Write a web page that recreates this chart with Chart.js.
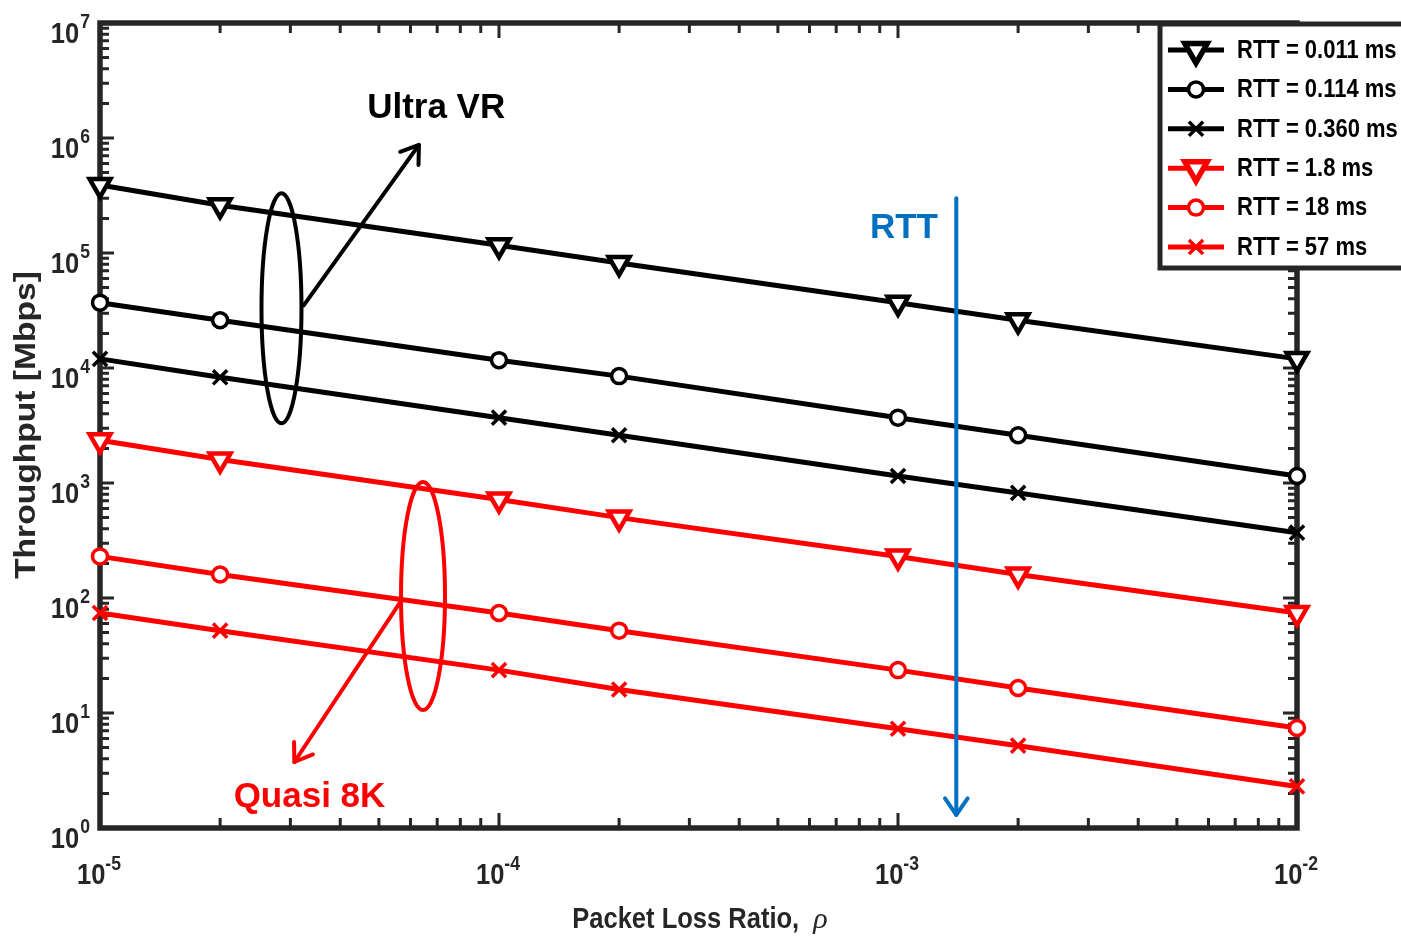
<!DOCTYPE html>
<html>
<head>
<meta charset="utf-8">
<title>Throughput vs Packet Loss Ratio</title>
<script src="https://cdn.jsdelivr.net/npm/chart.js@4.4.1/dist/chart.umd.min.js"></script>
<style>
  html, body { margin: 0; padding: 0; background: #fff; }
  #wrap { width: 1401px; height: 940px; }
</style>
</head>
<body>
<div id="wrap"><canvas id="myChart" width="1401" height="940"></canvas></div>
<script>
// x values (packet loss ratio) shared by every curve
var lossRatio = [1e-5, 2e-5, 1e-4, 2e-4, 1e-3, 2e-3, 1e-2];

// throughput [Mbps], one array per RTT
var thrRtt0011 = [3.9e5, 2.6e5, 1.17e5, 8.2e4, 3.7e4, 2.6e4, 1.2e4];
var thrRtt0114 = [3.7e4, 2.6e4, 1.17e4, 8.5e3, 3.7e3, 2.6e3, 1.15e3];
var thrRtt0360 = [1.2e4, 8.3e3, 3.7e3, 2.6e3, 1.15e3, 8.2e2, 3.7e2];
var thrRtt18 = [2.35e3, 1.6e3, 7.2e2, 5.0e2, 2.3e2, 1.6e2, 74];
var thrRtt180 = [2.3e2, 1.6e2, 74, 52, 23.6, 16.5, 7.4];
var thrRtt570 = [74, 52, 23.6, 16, 7.3, 5.2, 2.3];

var seriesLabels = ['RTT = 0.011 ms', 'RTT = 0.114 ms', 'RTT = 0.360 ms', 'RTT = 1.8 ms', 'RTT = 18 ms', 'RTT = 57 ms'];
var seriesValues = [thrRtt0011, thrRtt0114, thrRtt0360, thrRtt18, thrRtt180, thrRtt570];

// axis decades
var xDecades = [-5, -4, -3, -2];
var yDecades = [0, 1, 2, 3, 4, 5, 6, 7];

// styles
var seriesColors = ['#000000', '#000000', '#000000', '#ff0000', '#ff0000', '#ff0000'];
var seriesMarkers = ['triangle', 'circle', 'crossRot', 'triangle', 'circle', 'crossRot'];
var markerRadius = { triangle: 12, circle: 7.5, crossRot: 10 };
var markerBorder = { triangle: 4.5, circle: 3.5, crossRot: 3.5 };
var axisColor = '#262626';
var fontFam = "'Liberation Sans', Arial, sans-serif";

// annotations, anchored in data coordinates
var noteTexts = [
  { text: 'Ultra VR', x: 6.96e-5, y: 1.82e6, color: '#000000' },
  { text: 'Quasi 8K', x: 3.35e-5, y: 1.86, color: '#ff0000' },
  { text: 'RTT', x: 1.035e-3, y: 1.65e5, color: '#0070c0' }
];
var noteEllipses = [
  { x: 2.85e-5, yTop: 3.3e5, yBottom: 3.3e3, rx: 20, color: '#000000' },
  { x: 6.45e-5, yTop: 1.02e3, yBottom: 10.6, rx: 22, color: '#ff0000' }
];
var noteArrows = [
  { x1: 3.24e-5, y1: 3.5e4, x2: 6.3e-5, y2: 8.7e5, color: '#000000' },
  { x1: 5.7e-5, y1: 96, x2: 3.07e-5, y2: 3.75, color: '#ff0000' },
  { x1: 1.4e-3, y1: 3.0e5, x2: 1.4e-3, y2: 1.3, color: '#0070c0' }
];

function drawText(ctx, str, x, y, font, color, align, baseline, sx, rot) {
  ctx.save();
  ctx.translate(x, y);
  if (rot) ctx.rotate(rot);
  ctx.scale(sx || 1, 1);
  ctx.font = font;
  ctx.fillStyle = color;
  ctx.textAlign = align;
  ctx.textBaseline = baseline;
  ctx.fillText(str, 0, 0);
  ctx.restore();
}

function textWidth(ctx, str, font, sx) {
  ctx.save();
  ctx.font = font;
  var w = ctx.measureText(str).width * (sx || 1);
  ctx.restore();
  return w;
}

function drawArrow(ctx, x1, y1, x2, y2, color, lw, head) {
  ctx.save();
  ctx.strokeStyle = color;
  ctx.lineWidth = lw;
  ctx.lineCap = 'round';
  ctx.lineJoin = 'round';
  ctx.beginPath();
  ctx.moveTo(x1, y1);
  ctx.lineTo(x2, y2);
  ctx.stroke();
  var a = Math.atan2(y2 - y1, x2 - x1);
  ctx.beginPath();
  ctx.moveTo(x2 - head * Math.cos(a - 0.6), y2 - head * Math.sin(a - 0.6));
  ctx.lineTo(x2, y2);
  ctx.lineTo(x2 - head * Math.cos(a + 0.6), y2 - head * Math.sin(a + 0.6));
  ctx.stroke();
  ctx.restore();
}

// box, inward ticks (MATLAB style)
var boxPlugin = {
  id: 'boxPlugin',
  beforeDatasetsDraw: function(chart) {
    var ctx = chart.ctx, a = chart.chartArea;
    var xs = chart.scales.x, ys = chart.scales.y;
    ctx.save();
    ctx.strokeStyle = axisColor;
    ctx.lineWidth = 3;
    ctx.beginPath();
    // y ticks
    yDecades.forEach(function(k) {
      var py = ys.getPixelForValue(Math.pow(10, k));
      ctx.moveTo(a.left, py); ctx.lineTo(a.left + 14, py);
      ctx.moveTo(a.right, py); ctx.lineTo(a.right - 14, py);
      if (k < 7) {
        for (var m = 2; m <= 9; m++) {
          var p = ys.getPixelForValue(m * Math.pow(10, k));
          ctx.moveTo(a.left, p); ctx.lineTo(a.left + 9, p);
          ctx.moveTo(a.right, p); ctx.lineTo(a.right - 9, p);
        }
      }
    });
    // x ticks
    xDecades.forEach(function(k) {
      var px = xs.getPixelForValue(Math.pow(10, k));
      ctx.moveTo(px, a.bottom); ctx.lineTo(px, a.bottom - 15);
      ctx.moveTo(px, a.top); ctx.lineTo(px, a.top + 15);
      if (k < -2) {
        for (var m = 2; m <= 9; m++) {
          var p = xs.getPixelForValue(m * Math.pow(10, k));
          ctx.moveTo(p, a.bottom); ctx.lineTo(p, a.bottom - 10);
          ctx.moveTo(p, a.top); ctx.lineTo(p, a.top + 10);
        }
      }
    });
    ctx.stroke();
    ctx.lineWidth = 5.5;
    ctx.strokeRect(a.left, a.top, a.right - a.left, a.bottom - a.top);
    ctx.restore();
  },
  afterDraw: function(chart) {
    var ctx = chart.ctx, a = chart.chartArea;
    var xs = chart.scales.x, ys = chart.scales.y;
    var baseFont = 'bold 29px ' + fontFam;
    var expFont = 'bold 20px ' + fontFam;
    var sx = 0.88;

    // y tick labels
    yDecades.forEach(function(k) {
      var py = ys.getPixelForValue(Math.pow(10, k));
      var ew = textWidth(ctx, String(k), expFont, sx);
      var ex = 90 - ew;
      drawText(ctx, '10', ex - 1, py + 20, baseFont, axisColor, 'right', 'alphabetic', sx);
      drawText(ctx, String(k), ex, py + 5, expFont, axisColor, 'left', 'alphabetic', sx);
    });
    // x tick labels
    xDecades.forEach(function(k) {
      var px = xs.getPixelForValue(Math.pow(10, k));
      var bw = textWidth(ctx, '10', baseFont, sx);
      var ew = textWidth(ctx, String(k), expFont, sx);
      var start = px - 1 - (bw + ew) / 2;
      drawText(ctx, '10', start, 884, baseFont, axisColor, 'left', 'alphabetic', sx);
      drawText(ctx, String(k), start + bw, 870, expFont, axisColor, 'left', 'alphabetic', sx);
    });

    // axis titles
    var tFont = 'bold 29px ' + fontFam;
    var rhoFont = 'italic 30px "Liberation Serif", "Times New Roman", serif';
    var t1 = 'Packet Loss Ratio,  ';
    var w1 = textWidth(ctx, t1, tFont, 0.88);
    var w2 = textWidth(ctx, '\u03c1', rhoFont, 1);
    var sxT = 700 - (w1 + w2) / 2;
    drawText(ctx, t1, sxT, 928, tFont, axisColor, 'left', 'alphabetic', 0.88);
    drawText(ctx, '\u03c1', sxT + w1, 928, rhoFont, axisColor, 'left', 'alphabetic', 1);
    drawText(ctx, 'Throughput [Mbps]', 27, 425, 'bold 30px ' + fontFam, axisColor, 'center', 'middle', 1.12, -Math.PI / 2);

    // annotations
    noteEllipses.forEach(function(e) {
      var cx = xs.getPixelForValue(e.x);
      var yt = ys.getPixelForValue(e.yTop), yb = ys.getPixelForValue(e.yBottom);
      ctx.save();
      ctx.strokeStyle = e.color;
      ctx.lineWidth = 4;
      ctx.beginPath();
      ctx.ellipse(cx, (yt + yb) / 2, e.rx, (yb - yt) / 2, 0, 0, Math.PI * 2);
      ctx.stroke();
      ctx.restore();
    });
    noteArrows.forEach(function(r) {
      drawArrow(ctx, xs.getPixelForValue(r.x1), ys.getPixelForValue(r.y1),
        xs.getPixelForValue(r.x2), ys.getPixelForValue(r.y2), r.color, 4, 20);
    });
    noteTexts.forEach(function(n) {
      drawText(ctx, n.text, xs.getPixelForValue(n.x), ys.getPixelForValue(n.y),
        'bold 35px ' + fontFam, n.color, 'center', 'middle', 1);
    });

    // legend box
    var lx = 1160, ly = 24, lb = 268;
    ctx.save();
    ctx.fillStyle = '#ffffff';
    ctx.fillRect(lx, ly, 1420 - lx, lb - ly);
    ctx.strokeStyle = axisColor;
    ctx.lineWidth = 5;
    ctx.strokeRect(lx, ly, 1420 - lx, lb - ly);
    ctx.restore();
    seriesLabels.forEach(function(lbl, i) {
      var ry = 50 + i * 39.4;
      var mk = seriesMarkers[i];
      ctx.save();
      ctx.strokeStyle = seriesColors[i];
      ctx.lineWidth = 5;
      ctx.beginPath();
      ctx.moveTo(1168, ry); ctx.lineTo(1224, ry);
      ctx.stroke();
      ctx.fillStyle = '#ffffff';
      ctx.lineWidth = markerBorder[mk] + (mk === 'triangle' ? 1 : 0);
      Chart.helpers.drawPoint(ctx, {
        pointStyle: mk,
        radius: markerRadius[mk] + (mk === 'triangle' ? 1 : 0),
        rotation: mk === 'triangle' ? 180 : 0,
        borderWidth: ctx.lineWidth
      }, 1196, ry);
      ctx.restore();
      drawText(ctx, lbl, 1237, ry + 1, 'bold 25px ' + fontFam, '#000000', 'left', 'middle', 0.88);
    });
  }
};

var datasets = seriesValues.map(function(vals, i) {
  var mk = seriesMarkers[i];
  return {
    label: seriesLabels[i],
    data: lossRatio.map(function(p, j) { return { x: p, y: vals[j] }; }),
    borderColor: seriesColors[i],
    backgroundColor: '#ffffff',
    borderWidth: 5,
    pointStyle: mk,
    pointRadius: markerRadius[mk],
    pointRotation: mk === 'triangle' ? 180 : 0,
    pointBorderWidth: markerBorder[mk],
    pointBorderColor: seriesColors[i],
    pointBackgroundColor: '#ffffff',
    tension: 0,
    clip: false
  };
});

var ctx = document.getElementById('myChart').getContext('2d');
var myChart = new Chart(ctx, {
  type: 'line',
  data: { datasets: datasets },
  options: {
    responsive: false,
    animation: false,
    events: [],
    layout: { padding: { left: 100, top: 23, right: 104, bottom: 112 } },
    scales: {
      x: { type: 'logarithmic', min: 1e-5, max: 1e-2, display: false },
      y: { type: 'logarithmic', min: 1, max: 1e7, display: false }
    },
    plugins: {
      legend: { display: false },
      tooltip: { enabled: false }
    }
  },
  plugins: [boxPlugin]
});
</script>
</body>
</html>
